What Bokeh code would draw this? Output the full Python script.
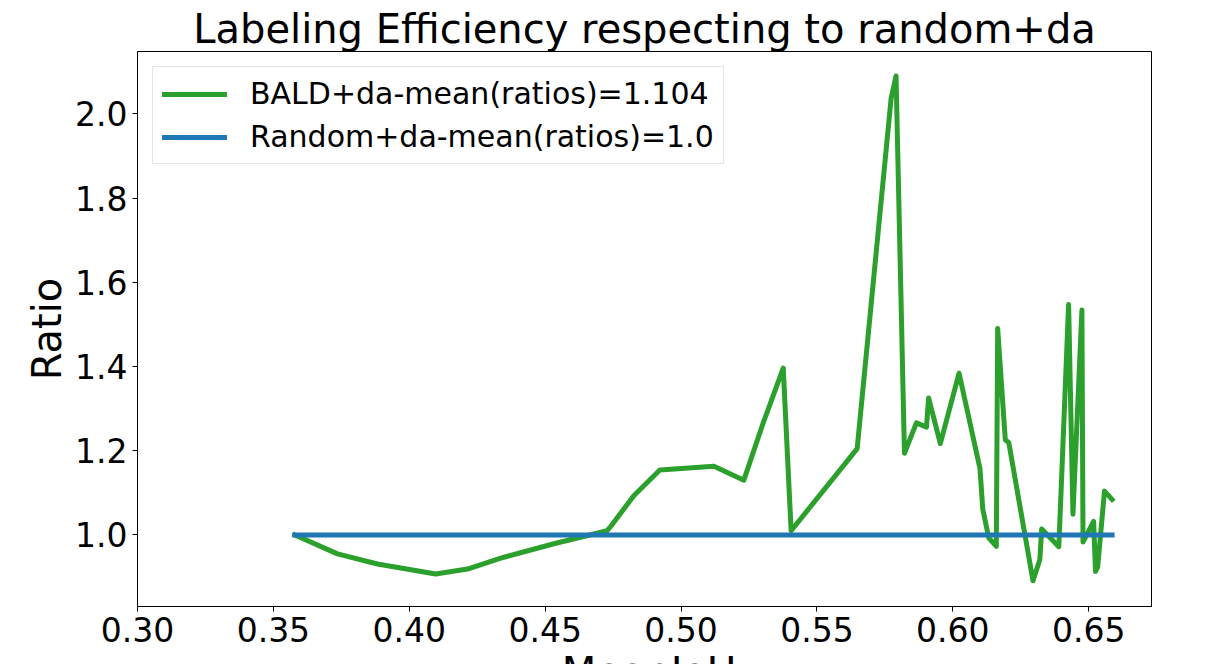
from bokeh.plotting import figure
from bokeh.layouts import column
from bokeh.models import (Range1d, FixedTicker, NumeralTickFormatter, Legend,
                          LegendItem, Div)
from bokeh.embed import file_html
from bokeh.resources import INLINE

# ---- data ----
bald_x = [0.3579, 0.3736, 0.3883, 0.4097, 0.4214, 0.4348, 0.4532, 0.4728,
          0.4741, 0.4826, 0.4922, 0.5121, 0.5231, 0.5299, 0.5376, 0.5405,
          0.5648, 0.5773, 0.5791, 0.5822, 0.5866, 0.5903, 0.5911, 0.5954,
          0.6023, 0.6100, 0.6110, 0.6132, 0.6160, 0.6165, 0.6193, 0.6206,
          0.6295, 0.6320, 0.6327, 0.6390, 0.6426, 0.6442, 0.6475, 0.6479,
          0.6518, 0.6525, 0.6533, 0.6558, 0.6586]
bald_y = [1.000, 0.955, 0.931, 0.907, 0.919, 0.947, 0.979, 1.010,
          1.020, 1.093, 1.154, 1.163, 1.130, 1.260, 1.396, 1.010,
          1.205, 2.037, 2.090, 1.194, 1.266, 1.256, 1.325, 1.217,
          1.384, 1.157, 1.062, 0.993, 0.973, 1.490, 1.226, 1.219,
          0.891, 0.941, 1.014, 0.972, 1.547, 1.049, 1.534, 0.983,
          1.032, 0.913, 0.924, 1.104, 1.084]
random_x = [0.3579, 0.6586]
random_y = [1.0, 1.0]

x_ticks = [0.30, 0.35, 0.40, 0.45, 0.50, 0.55, 0.60, 0.65]
y_ticks = [1.0, 1.2, 1.4, 1.6, 1.8, 2.0]

title_text = "Labeling Efficiency respecting to random+da"
x_label = "MeanIoU"
y_label = "Ratio"
bald_label = "BALD+da-mean(ratios)=1.104"
random_label = "Random+da-mean(ratios)=1.0"

GREEN = "#2ca02c"
BLUE = "#1f77b4"
FONT = "DejaVu Sans"

x0, x1 = 0.30, 0.6731
p = figure(width=1209, height=655, output_backend="svg", toolbar_location=None,
           x_range=Range1d(x0, x1), y_range=Range1d(0.830, 2.148),
           min_border_left=137, min_border_right=58, min_border_top=51,
           min_border_bottom=49)
p.xgrid.visible = False
p.ygrid.visible = False
p.outline_line_color = "black"
p.outline_line_width = 1
p.outline_line_alpha = 1
p.background_fill_color = "white"
p.border_fill_color = "white"

p.title.text = title_text
p.title.text_font_size = "40px"
p.title.text_font = FONT
p.title.text_font_style = "normal"
p.title.text_color = "black"
p.title.align = "center"
p.title.standoff = 0

for ax in (p.xaxis, p.yaxis):
    ax.major_label_text_font_size = "33px"
    ax.major_label_text_font = FONT
    ax.major_label_text_color = "black"
    ax.minor_tick_line_color = None
    ax.major_tick_in = 0
    ax.major_tick_out = 5
    ax.major_tick_line_color = "black"
    ax.axis_line_color = "black"
    ax.major_label_standoff = 5

p.xaxis.ticker = FixedTicker(ticks=x_ticks)
p.xaxis.formatter = NumeralTickFormatter(format="0.00")
p.yaxis.ticker = FixedTicker(ticks=y_ticks)
p.yaxis.formatter = NumeralTickFormatter(format="0.0")

p.yaxis.axis_label = y_label
p.yaxis.axis_label_text_font_size = "40px"
p.yaxis.axis_label_text_font = FONT
p.yaxis.axis_label_text_font_style = "normal"
p.yaxis.axis_label_text_color = "black"
p.yaxis.axis_label_standoff = 2

r_bald = p.line(bald_x, bald_y, line_color=GREEN, line_width=5,
                line_join="round", line_cap="square")
r_rand = p.line(random_x, random_y, line_color=BLUE, line_width=5,
                line_join="round", line_cap="square")

legend = Legend(items=[LegendItem(label=bald_label, renderers=[r_bald]),
                       LegendItem(label=random_label, renderers=[r_rand])],
                location="top_left", margin=15, padding=9, spacing=8,
                glyph_width=65, glyph_height=34, label_height=34,
                label_standoff=23, label_text_font_size="30px",
                label_text_font=FONT, label_text_color="black",
                border_line_color="#cccccc", border_line_width=1,
                background_fill_color="white", background_fill_alpha=0.8)
p.add_layout(legend)

# x-axis title under the plot, cut off by the window edge as in the reference
xlabel_div = Div(
    text=('<div style="position:relative; top:-8px; margin-left:137px; '
          'width:1014px; text-align:center; white-space:nowrap; '
          'font-family:\'DejaVu Sans\'; font-size:40px; line-height:40px; '
          'color:black;">' + x_label + '</div>'),
    width=1209, height=9)

layout = column(p, xlabel_div, spacing=0)
open("out.html", "w").write(file_html(layout, INLINE))
